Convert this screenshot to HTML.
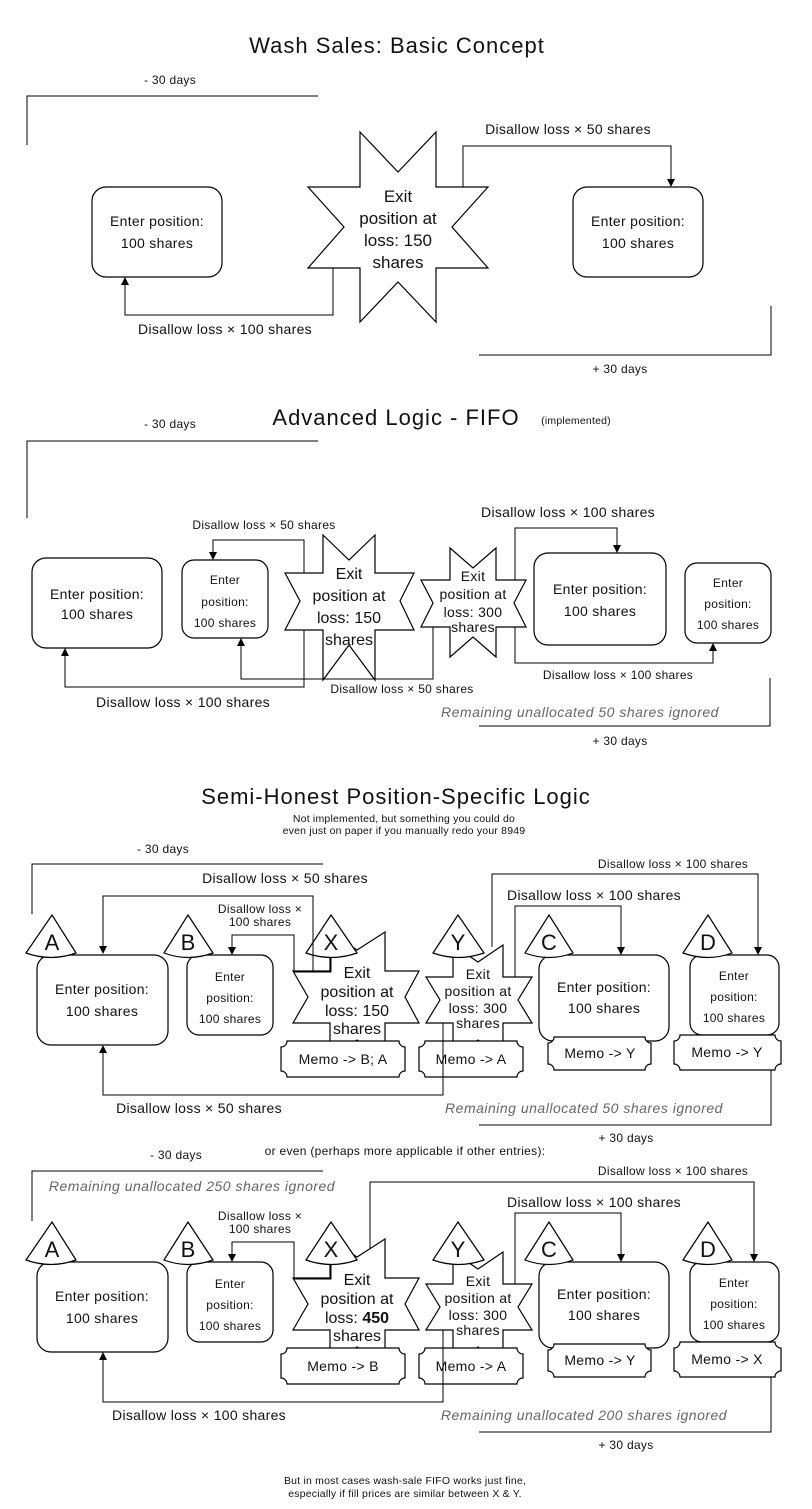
<!DOCTYPE html>
<html><head><meta charset="utf-8"><style>
html,body{margin:0;padding:0;background:#fff}
svg{display:block}
text{font-family:"Liberation Sans",sans-serif;fill:#111}
.t{font-size:22px;letter-spacing:1px}
.m{font-size:14px;letter-spacing:0.3px}
.s{font-size:12px;letter-spacing:0.3px}
.xs{font-size:10.5px;letter-spacing:0.2px}
.i{font-style:italic;fill:#666;font-size:14px;letter-spacing:0.5px}
.L{font-size:22px}
.ln{fill:none;stroke:#000;stroke-width:1}
.sh{fill:#fff;stroke:#000;stroke-width:1.2}
</style></head><body>
<svg width="812" height="1509" viewBox="0 0 812 1509" xmlns="http://www.w3.org/2000/svg">
<defs><marker id="a" markerWidth="8" markerHeight="8" refX="7" refY="4" orient="auto" markerUnits="userSpaceOnUse"><path d="M0,0 L8,4 L0,8 Z" fill="#000"/></marker></defs>
<g text-anchor="middle">
<!-- Section 1 -->
<text x="397" y="53" class="t">Wash Sales: Basic Concept</text>
<text x="170" y="84" class="s">- 30 days</text>
<path class="ln" d="M318,96 H27 V145"/>
<rect class="sh" x="92" y="187" width="130" height="90" rx="14"/>
<text x="157" y="226" class="m">Enter position:</text><text x="157" y="248" class="m">100 shares</text>
<polygon class="sh" points="360,132 398,172 436,132 436,187 488,187 452,227 488,268 436,268 436,322 398,282 360,322 360,268 308,268 344,227 308,187 360,187"/>
<text x="398" y="202" font-size="17">Exit</text><text x="398" y="224" font-size="17">position at</text><text x="398" y="246" font-size="17">loss: 150</text><text x="398" y="268" font-size="17">shares</text>
<rect class="sh" x="573" y="187" width="130" height="90" rx="14"/>
<text x="638" y="226" class="m">Enter position:</text><text x="638" y="248" class="m">100 shares</text>
<path class="ln" d="M463,187 V146 H671 V186" marker-end="url(#a)"/>
<text x="568" y="134" class="m">Disallow loss × 50 shares</text>
<path class="ln" d="M333,268 V315 H125 V278" marker-end="url(#a)"/>
<text x="225" y="334" class="m">Disallow loss × 100 shares</text>
<path class="ln" d="M479,355 H771 V306"/>
<text x="620" y="373" class="s">+ 30 days</text>

<!-- Section 2 -->
<text x="396" y="425" class="t">Advanced Logic - FIFO</text>
<text x="576" y="424" class="xs">(implemented)</text>
<text x="170" y="428" class="s">- 30 days</text>
<path class="ln" d="M318,441 H27 V518"/>
<rect class="sh" x="32" y="558" width="130" height="90" rx="14"/>
<text x="97" y="599" class="m">Enter position:</text><text x="97" y="619" class="m">100 shares</text>
<rect class="sh" x="182" y="560" width="86" height="78" rx="12"/>
<text x="225" y="584" class="s">Enter</text><text x="225" y="606" class="s">position:</text><text x="225" y="627" class="s">100 shares</text>
<polygon class="sh" points="323,535 349,560 375,535 375,573 414,573 400,601 414,630 375,630 375,680 349,645 323,680 323,630 285,630 300,601 285,573 323,573"/>
<text x="349" y="579" font-size="16">Exit</text><text x="349" y="601" font-size="16">position at</text><text x="349" y="623" font-size="16">loss: 150</text><text x="349" y="645" font-size="16">shares</text>
<polygon class="sh" points="450,548 473,568 496,548 496,580 526,580 514,603 526,627 496,627 496,657 473,637 450,657 450,627 421,627 433,603 421,580 450,580"/>
<text x="473" y="581" class="m">Exit</text><text x="473" y="599" class="m">position at</text><text x="473" y="617" class="m">loss: 300</text><text x="473" y="632" class="m">shares</text>
<rect class="sh" x="534" y="553" width="132" height="92" rx="14"/>
<text x="600" y="594" class="m">Enter position:</text><text x="600" y="616" class="m">100 shares</text>
<rect class="sh" x="685" y="563" width="86" height="80" rx="12"/>
<text x="728" y="587" class="s">Enter</text><text x="728" y="608" class="s">position:</text><text x="728" y="629" class="s">100 shares</text>
<path class="ln" d="M304,573 V540 H213 V559" marker-end="url(#a)"/>
<text x="264" y="529" class="s">Disallow loss × 50 shares</text>
<path class="ln" d="M304,630 V687 H65 V649" marker-end="url(#a)"/>
<text x="183" y="707" class="m">Disallow loss × 100 shares</text>
<path class="ln" d="M433,627 V679 H241 V639" marker-end="url(#a)"/>
<text x="402" y="693" class="s">Disallow loss × 50 shares</text>
<path class="ln" d="M515,580 V528 H617 V552" marker-end="url(#a)"/>
<text x="568" y="517" class="m">Disallow loss × 100 shares</text>
<path class="ln" d="M515,627 V663 H713 V644" marker-end="url(#a)"/>
<text x="618" y="679" class="s">Disallow loss × 100 shares</text>
<text x="580" y="717" class="i">Remaining unallocated 50 shares ignored</text>
<path class="ln" d="M479,726 H770 V678"/>
<text x="620" y="745" class="s">+ 30 days</text>

<!-- Section 3 -->
<text x="396" y="804" class="t">Semi-Honest Position-Specific Logic</text>
<text x="404" y="822" class="xs">Not implemented, but something you could do</text>
<text x="404" y="834" class="xs">even just on paper if you manually redo your 8949</text>
<text x="163" y="853" class="s">- 30 days</text>
<path class="ln" d="M323,864 H32 V914"/>
<g>
<rect class="sh" x="37" y="955" width="131" height="90" rx="14"/>
<text x="102" y="994" class="m">Enter position:</text><text x="102" y="1016" class="m">100 shares</text>
<rect class="sh" x="187" y="955" width="86" height="80" rx="12"/>
<text x="230" y="981" class="s">Enter</text><text x="230" y="1002" class="s">position:</text><text x="230" y="1023" class="s">100 shares</text>
<polygon class="sh" points="330,932 357,950 385,932 385,971 419,971 405,997 419,1023 385,1023 385,1060 357,1040 330,1060 330,1023 293,1023 308,997 293,971 330,971"/>
<polygon class="sh" points="453,945 478,962 503,945 503,977 532,977 518,1000 532,1023 503,1023 503,1060 478,1040 453,1060 453,1023 426,1023 440,1000 426,977 453,977"/>
<text x="478" y="979" class="m">Exit</text><text x="478" y="996" class="m">position at</text><text x="478" y="1013" class="m">loss: 300</text><text x="478" y="1028" class="m">shares</text>
<rect class="sh" x="539" y="955" width="130" height="86" rx="14"/>
<text x="604" y="992" class="m">Enter position:</text><text x="604" y="1013" class="m">100 shares</text>
<rect class="sh" x="690" y="955" width="89" height="80" rx="12"/>
<text x="734" y="980" class="s">Enter</text><text x="734" y="1001" class="s">position:</text><text x="734" y="1022" class="s">100 shares</text>
<path class="sh" d="M287,1041 H399 A6,6 0 0 0 405,1047 V1071 A6,6 0 0 0 399,1077 H287 A6,6 0 0 0 281,1071 V1047 A6,6 0 0 0 287,1041 Z"/>
<path class="sh" d="M425,1041 H517 A6,6 0 0 0 523,1047 V1071 A6,6 0 0 0 517,1077 H425 A6,6 0 0 0 419,1071 V1047 A6,6 0 0 0 425,1041 Z"/>
<path class="sh" d="M554,1037 H645 A6,6 0 0 0 651,1043 V1064 A6,6 0 0 0 645,1070 H554 A6,6 0 0 0 548,1064 V1043 A6,6 0 0 0 554,1037 Z"/>
<path class="sh" d="M680,1035 H775 A6,6 0 0 0 781,1041 V1064 A6,6 0 0 0 775,1070 H680 A6,6 0 0 0 674,1064 V1041 A6,6 0 0 0 680,1035 Z"/>
<text x="471" y="1064" class="m">Memo -&gt; A</text>
<text x="600" y="1058" class="m">Memo -&gt; Y</text>
<path class="sh" d="M26,953 L52,915 L76,953 Q51,962 26,953 Z"/><text x="52" y="950" class="L">A</text>
<path class="sh" d="M164,953 L188,915 L213,953 Q188,962 164,953 Z"/><text x="188" y="950" class="L">B</text>
<path class="sh" d="M306,953 L331,915 L357,953 Q331,962 306,953 Z"/><text x="331" y="950" class="L">X</text>
<path class="sh" d="M433,953 L458,915 L484,953 Q458,962 433,953 Z"/><text x="458" y="950" class="L">Y</text>
<path class="sh" d="M525,953 L549,915 L573,953 Q549,962 525,953 Z"/><text x="549" y="950" class="L">C</text>
<path class="sh" d="M683,953 L708,915 L732,953 Q708,962 683,953 Z"/><text x="708" y="950" class="L">D</text>
<path class="ln" d="M331,958 V972 H294 V935 H232 V954" marker-end="url(#a)"/>
<text x="260" y="913" class="s">Disallow loss ×</text><text x="260" y="926" class="s">100 shares</text>
<path class="ln" d="M515,977 V906 H621 V954" marker-end="url(#a)"/>
<text x="594" y="900" class="m">Disallow loss × 100 shares</text>
<path class="ln" d="M771,1070 V1125 H479"/>
</g>
<text x="357" y="978" font-size="16">Exit</text><text x="357" y="997" font-size="16">position at</text><text x="357" y="1016" font-size="16">loss: 150</text><text x="357" y="1034" font-size="16">shares</text>
<text x="343" y="1064" class="m">Memo -&gt; B; A</text>
<text x="727" y="1057" class="m">Memo -&gt; Y</text>
<path class="ln" d="M313,971 V896 H103 V953" marker-end="url(#a)"/>
<text x="285" y="883" class="m">Disallow loss × 50 shares</text>
<path class="ln" d="M443,1023 V1095 H103 V1046" marker-end="url(#a)"/>
<text x="199" y="1113" class="m">Disallow loss × 50 shares</text>
<path class="ln" d="M492,947 V874 H758 V954" marker-end="url(#a)"/>
<text x="673" y="868" class="s">Disallow loss × 100 shares</text>
<text x="584" y="1113" class="i">Remaining unallocated 50 shares ignored</text>
<text x="626" y="1142" class="s">+ 30 days</text>

<!-- Section 4 -->
<text x="405" y="1155" class="s">or even (perhaps more applicable if other entries):</text>
<text x="176" y="1159" class="s">- 30 days</text>
<path class="ln" d="M323,1171 H32 V1221"/>
<text x="192" y="1191" class="i">Remaining unallocated 250 shares ignored</text>
<g transform="translate(0,307)">
<rect class="sh" x="37" y="955" width="131" height="90" rx="14"/>
<text x="102" y="994" class="m">Enter position:</text><text x="102" y="1016" class="m">100 shares</text>
<rect class="sh" x="187" y="955" width="86" height="80" rx="12"/>
<text x="230" y="981" class="s">Enter</text><text x="230" y="1002" class="s">position:</text><text x="230" y="1023" class="s">100 shares</text>
<polygon class="sh" points="330,932 357,950 385,932 385,971 419,971 405,997 419,1023 385,1023 385,1060 357,1040 330,1060 330,1023 293,1023 308,997 293,971 330,971"/>
<polygon class="sh" points="453,945 478,962 503,945 503,977 532,977 518,1000 532,1023 503,1023 503,1060 478,1040 453,1060 453,1023 426,1023 440,1000 426,977 453,977"/>
<text x="478" y="979" class="m">Exit</text><text x="478" y="996" class="m">position at</text><text x="478" y="1013" class="m">loss: 300</text><text x="478" y="1028" class="m">shares</text>
<rect class="sh" x="539" y="955" width="130" height="86" rx="14"/>
<text x="604" y="992" class="m">Enter position:</text><text x="604" y="1013" class="m">100 shares</text>
<rect class="sh" x="690" y="955" width="89" height="80" rx="12"/>
<text x="734" y="980" class="s">Enter</text><text x="734" y="1001" class="s">position:</text><text x="734" y="1022" class="s">100 shares</text>
<path class="sh" d="M287,1041 H399 A6,6 0 0 0 405,1047 V1071 A6,6 0 0 0 399,1077 H287 A6,6 0 0 0 281,1071 V1047 A6,6 0 0 0 287,1041 Z"/>
<path class="sh" d="M425,1041 H517 A6,6 0 0 0 523,1047 V1071 A6,6 0 0 0 517,1077 H425 A6,6 0 0 0 419,1071 V1047 A6,6 0 0 0 425,1041 Z"/>
<path class="sh" d="M554,1037 H645 A6,6 0 0 0 651,1043 V1064 A6,6 0 0 0 645,1070 H554 A6,6 0 0 0 548,1064 V1043 A6,6 0 0 0 554,1037 Z"/>
<path class="sh" d="M680,1035 H775 A6,6 0 0 0 781,1041 V1064 A6,6 0 0 0 775,1070 H680 A6,6 0 0 0 674,1064 V1041 A6,6 0 0 0 680,1035 Z"/>
<text x="471" y="1064" class="m">Memo -&gt; A</text>
<text x="600" y="1058" class="m">Memo -&gt; Y</text>
<path class="sh" d="M26,953 L52,915 L76,953 Q51,962 26,953 Z"/><text x="52" y="950" class="L">A</text>
<path class="sh" d="M164,953 L188,915 L213,953 Q188,962 164,953 Z"/><text x="188" y="950" class="L">B</text>
<path class="sh" d="M306,953 L331,915 L357,953 Q331,962 306,953 Z"/><text x="331" y="950" class="L">X</text>
<path class="sh" d="M433,953 L458,915 L484,953 Q458,962 433,953 Z"/><text x="458" y="950" class="L">Y</text>
<path class="sh" d="M525,953 L549,915 L573,953 Q549,962 525,953 Z"/><text x="549" y="950" class="L">C</text>
<path class="sh" d="M683,953 L708,915 L732,953 Q708,962 683,953 Z"/><text x="708" y="950" class="L">D</text>
<path class="ln" d="M331,958 V972 H294 V935 H232 V954" marker-end="url(#a)"/>
<text x="260" y="913" class="s">Disallow loss ×</text><text x="260" y="926" class="s">100 shares</text>
<path class="ln" d="M515,977 V906 H621 V954" marker-end="url(#a)"/>
<text x="594" y="900" class="m">Disallow loss × 100 shares</text>
<path class="ln" d="M771,1070 V1125 H479"/>
<text x="357" y="978" font-size="16">Exit</text><text x="357" y="997" font-size="16">position at</text><text x="357" y="1016" font-size="16">loss: <tspan font-weight="bold">450</tspan></text><text x="357" y="1034" font-size="16">shares</text>
<text x="343" y="1064" class="m">Memo -&gt; B</text>
<text x="727" y="1057" class="m">Memo -&gt; X</text>
<path class="ln" d="M443,1023 V1095 H103 V1046" marker-end="url(#a)"/>
<text x="199" y="1113" class="m">Disallow loss × 100 shares</text>
<path class="ln" d="M370,942 V875 H754 V954" marker-end="url(#a)"/>
<text x="673" y="868" class="s">Disallow loss × 100 shares</text>
<text x="584" y="1113" class="i">Remaining unallocated 200 shares ignored</text>
<text x="626" y="1142" class="s">+ 30 days</text>
</g>
<text x="405" y="1484" class="xs">But in most cases wash-sale FIFO works just fine,</text>
<text x="405" y="1497" class="xs">especially if fill prices are similar between X &amp; Y.</text>
</g>
</svg>
</body></html>
